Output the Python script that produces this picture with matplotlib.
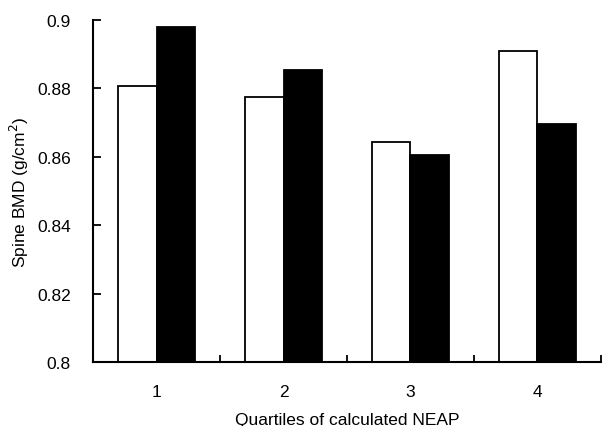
import matplotlib
matplotlib.use("Agg")
import matplotlib.pyplot as plt
import numpy as np

plt.rcParams['font.family'] = ['Liberation Sans', 'DejaVu Sans']

quartiles = ["1", "2", "3", "4"]
white_vals = [0.8806, 0.8775, 0.8642, 0.8910]
black_vals = [0.8980, 0.8853, 0.8605, 0.8695]
yticks = [0.8, 0.82, 0.84, 0.86, 0.88, 0.9]
ytick_labels = ["0.8", "0.82", "0.84", "0.86", "0.88", "0.9"]

fig = plt.figure(figsize=(6.04, 4.27), dpi=100)
ax = fig.add_axes([0.154, 0.150, 0.841, 0.801])

x = np.arange(1, len(quartiles) + 1)
w = 0.3
ax.bar(x - w / 2, white_vals, width=w, bottom=0, color="white", edgecolor="black", linewidth=1.3)
ax.bar(x + w / 2, black_vals, width=w, bottom=0, color="black", edgecolor="black", linewidth=1.3)

fs = 12.5
ax.set_xlim(0.5, 4.5)
ax.set_ylim(0.8, 0.9)
ax.set_yticks(yticks)
ax.set_yticklabels(ytick_labels, fontsize=fs)
ax.set_xticks(x)
ax.set_xticklabels(quartiles, fontsize=fs)
ax.tick_params(axis='x', length=0, pad=16)
ax.set_xticks([1.5, 2.5, 3.5, 4.5], minor=True)
ax.tick_params(axis='x', which='minor', direction='in', length=5, width=1.3)
ax.tick_params(axis='y', direction='in', length=6, width=1.3, pad=16)

for s in ["top", "right"]:
    ax.spines[s].set_visible(False)
for s in ["left", "bottom"]:
    ax.spines[s].set_linewidth(1.5)

ax.set_ylabel("Spine BMD (g/cm$^{2}$)", fontsize=fs, labelpad=4)
ax.set_xlabel("Quartiles of calculated NEAP", fontsize=fs, labelpad=9)

fig.savefig("out.png", dpi=100)
